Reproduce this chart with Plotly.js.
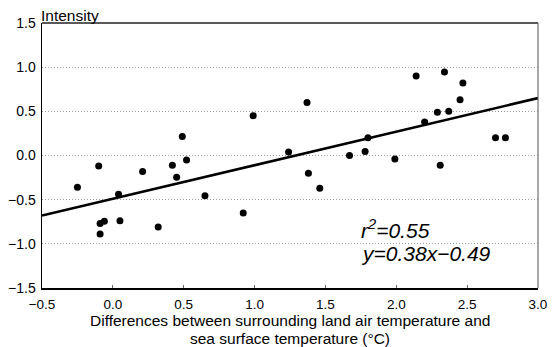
<!DOCTYPE html>
<html><head><meta charset="utf-8">
<script src="https://cdn.plot.ly/plotly-3.0.1.min.js"></script>
<style>body{margin:0;background:#fff}#c{width:558px;height:347px}</style>
</head><body><div id="c"></div>
<script>
const xVals = [-0.25,-0.10,-0.09,-0.09,-0.06,0.04,0.05,0.21,0.32,0.42,0.45,0.49,0.52,0.65,0.92,0.99,1.24,1.37,1.38,1.46,1.67,1.78,1.80,1.99,2.14,2.20,2.29,2.31,2.34,2.37,2.45,2.47,2.70,2.77];
const yVals = [-0.36,-0.12,-0.77,-0.89,-0.745,-0.44,-0.74,-0.18,-0.81,-0.11,-0.245,0.215,-0.05,-0.455,-0.65,0.45,0.04,0.60,-0.20,-0.37,0.00,0.045,0.20,-0.04,0.90,0.38,0.49,-0.11,0.945,0.50,0.63,0.82,0.20,0.20];
const slope = 0.38, intercept = -0.49;
const fitX = [-0.5, 3.0];
const fitY = fitX.map(x => slope*x + intercept);
const yTitle = "Intensity";
const xTitleLines = ["Differences between surrounding land air temperature and", "sea surface temperature (°C)"];
const statLines = ["r<sup>2</sup>=0.55", "y=0.38x\u22120.49"];

const fam = "Liberation Sans, Arial, sans-serif";
const f = (size, extra) => Object.assign({family: fam, size: size, color: "#000"}, extra || {});
Plotly.newPlot("c", [
  {x: fitX, y: fitY, mode: "lines", line: {color: "#000", width: 2.6}, hoverinfo: "skip"},
  {x: xVals, y: yVals, mode: "markers", marker: {color: "#000", size: 7}}
], {
  width: 558, height: 347,
  margin: {l: 42, r: 20, t: 23, b: 59},
  showlegend: false,
  paper_bgcolor: "#fff", plot_bgcolor: "#fff",
  font: f(13.5),
  xaxis: {
    range: [-0.5, 3.0], dtick: 0.5, tick0: -0.5, tickformat: ".1f",
    showgrid: false, zeroline: false, showline: true, linecolor: "#000", linewidth: 1.5,
    ticks: "inside", ticklen: 3, tickcolor: "#666", ticklabelstandoff: 3,
    tickfont: f(13.5)
  },
  yaxis: {
    range: [-1.5, 1.5], dtick: 0.5, tick0: -1.5, tickformat: ".1f",
    showgrid: true, gridcolor: "#9a9a9a", griddash: "1px,2px", gridwidth: 1,
    zeroline: false, showline: true, linecolor: "#000", linewidth: 1.5,
    ticks: "", ticklabelstandoff: 2, tickfont: f(14)
  },
  shapes: [
    {type: "line", xref: "paper", yref: "paper", x0: 0, x1: 1, y0: 1, y1: 1, line: {color: "#222", width: 1.5}},
    {type: "line", xref: "paper", yref: "paper", x0: 1, x1: 1, y0: 0, y1: 1, line: {color: "#555", width: 1}}
  ],
  annotations: [
    {text: yTitle, xref: "paper", yref: "paper", x: 0, y: 1, xanchor: "left", yanchor: "bottom", yshift: -3, xshift: -3, showarrow: false, font: f(15.5)},
    {text: xTitleLines[0], xref: "paper", yref: "paper", x: 0.5, y: -0.1208, xanchor: "center", yanchor: "middle", showarrow: false, font: f(15.5)},
    {text: xTitleLines[1], xref: "paper", yref: "paper", x: 0.5, y: -0.1887, xanchor: "center", yanchor: "middle", showarrow: false, font: f(15.5)},
    {text: statLines[0], xref: "x", yref: "y", x: 1.74, y: -0.83, xanchor: "left", yanchor: "middle", showarrow: false, font: f(21, {style: "italic"})},
    {text: statLines[1], xref: "x", yref: "y", x: 1.74, y: -1.11, xanchor: "left", yanchor: "middle", showarrow: false, font: f(21, {style: "italic"})}
  ]
}, {displayModeBar: false, staticPlot: true});
</script></body></html>
